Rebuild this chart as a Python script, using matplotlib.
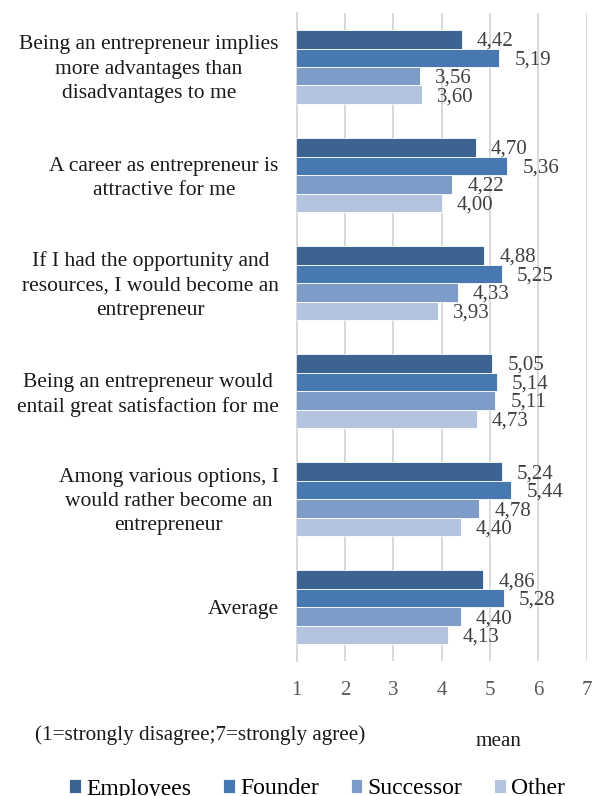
import matplotlib
matplotlib.use("Agg")
import matplotlib.pyplot as plt
import matplotlib.transforms as mtransforms
import numpy as np

plt.rcParams["font.family"] = ["Liberation Serif", "DejaVu Serif"]

categories = [
    "Being an entrepreneur implies\nmore advantages than\ndisadvantages to me",
    "A career as entrepreneur is\nattractive for me",
    "If I had the opportunity and\nresources, I would become an\nentrepreneur",
    "Being an entrepreneur would\nentail great satisfaction for me",
    "Among various options, I\nwould rather become an\nentrepreneur",
    "Average",
]
series_names = ["Employees", "Founder", "Successor", "Other"]
employees = [4.42, 4.70, 4.88, 5.05, 5.24, 4.86]
founder = [5.19, 5.36, 5.25, 5.14, 5.44, 5.28]
successor = [3.56, 4.22, 4.33, 5.11, 4.78, 4.40]
other = [3.60, 4.00, 3.93, 4.73, 4.40, 4.13]
x_ticks = [1, 2, 3, 4, 5, 6, 7]

series_values = [employees, founder, successor, other]
colors = ["#3B6492", "#4878B0", "#7E9CC8", "#B4C4E0"]

fig = plt.figure(figsize=(5.94, 7.96), dpi=100)
ax = fig.add_axes([0.4995, 0.1690, 0.4882, 0.8147])

n_groups = len(categories)
bar_h = 0.171
y_centers = np.arange(n_groups)

for j, (name, vals, col) in enumerate(zip(series_names, series_values, colors)):
    ys = y_centers + (j - 1.5) * bar_h
    ax.barh(ys, vals, height=bar_h, left=0, color=col,
            edgecolor="white", linewidth=0.6, label=name, zorder=3)
    for y, v in zip(ys, vals):
        ax.annotate(f"{v:.2f}".replace(".", ","), xy=(v, y),
                    xytext=(15, -2), textcoords="offset pixels",
                    ha="left", va="center", fontsize=15, color="#404040",
                    zorder=4)

ax.set_xlim(1, 7)
ax.set_ylim(n_groups - 0.5, -0.5)
ax.set_xticks(x_ticks)
ax.set_xticklabels([str(t) for t in x_ticks])
ax.tick_params(axis="x", length=0, pad=14, labelsize=15, labelcolor="#595959")
ax.set_yticks(y_centers)
ylabels = ax.set_yticklabels(categories, fontsize=15.5, color="#1a1a1a",
                             multialignment="center", linespacing=1.38)
ax.tick_params(axis="y", length=0, pad=13)

# nudge multi-line category labels so their block is centred on the group
for lbl, text in zip(ylabels, categories):
    n_lines = text.count("\n") + 1
    dy = 1.5 * (n_lines - 1) / 100
    lbl.set_transform(lbl.get_transform()
                      + mtransforms.ScaledTranslation(0, dy, fig.dpi_scale_trans))

ax.grid(axis="x", color="#D9D9D9", linewidth=1.4, zorder=0)
for s in ["top", "right", "bottom"]:
    ax.spines[s].set_visible(False)
ax.spines["left"].set_color("#D9D9D9")
ax.spines["left"].set_linewidth(1.4)
ax.spines["left"].set_zorder(2)

fig.text(35 / 594, 1 - 735 / 796, "(1=strongly disagree;7=strongly agree)",
         ha="left", va="center", fontsize=15.2, color="#1a1a1a")
fig.text(499 / 594, 1 - 741 / 796, "mean",
         ha="center", va="center", fontsize=15.2, color="#1a1a1a")

fig.legend(loc="center", bbox_to_anchor=(317 / 594, 1 - 789 / 796),
           ncol=4, frameon=False, fontsize=17, handlelength=0.5,
           handleheight=0.5, handletextpad=0.22, columnspacing=1.35,
           borderaxespad=0, borderpad=0)

fig.savefig("out.png", dpi=100)
